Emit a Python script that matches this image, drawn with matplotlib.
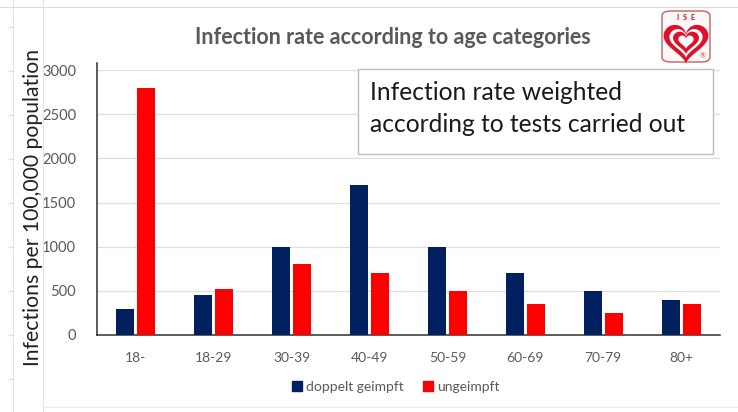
import numpy as np
import matplotlib
matplotlib.use("Agg")
import matplotlib.pyplot as plt
from matplotlib.patches import Rectangle, FancyBboxPatch, Polygon
from matplotlib.lines import Line2D

plt.rcParams['font.family'] = ['Lato', 'DejaVu Sans']

categories = ["18-", "18-29", "30-39", "40-49", "50-59", "60-69", "70-79", "80+"]
doppelt_geimpft = [290, 450, 1000, 1700, 1000, 700, 500, 400]
ungeimpft = [2800, 520, 800, 700, 500, 350, 250, 350]
series_names = ["doppelt geimpft", "ungeimpft"]
yticks = [0, 500, 1000, 1500, 2000, 2500, 3000]

NAVY = "#002060"
RED = "#FF0000"
GREY = "#595959"

W, H = 738, 412
fig = plt.figure(figsize=(W / 100, H / 100), dpi=100)
fig.patch.set_facecolor("white")

def fx(px):
    return px / W

def fy(py):
    return 1 - py / H

# spreadsheet cell lines behind the chart
for x in (13, 43):
    fig.add_artist(Line2D([fx(x), fx(x)], [0, 1], color="#e3e3e3", lw=0.8))
fig.add_artist(Line2D([0, 1], [fy(7), fy(7)], color="#dcdcdc", lw=0.8))
fig.add_artist(Line2D([fx(43), 1], [fy(407), fy(407)], color="#ececec", lw=0.8))
for y in range(27, 412, 44):
    fig.add_artist(Line2D([fx(9), fx(13)], [fy(y), fy(y)], color="#dcdcdc", lw=0.8))

ax = fig.add_axes([fx(97), fy(335), fx(720) - fx(97), fy(70) - fy(335)])
x = np.arange(len(categories))
bw = 0.23
ax.bar(x - 0.135, doppelt_geimpft, bw, color=NAVY, label=series_names[0], zorder=3)
ax.bar(x + 0.135, ungeimpft, bw, color=RED, label=series_names[1], zorder=3)

ax.set_xlim(-0.5, len(categories) - 0.5)
ax.set_ylim(0, 3000)
ax.set_yticks(yticks)
ax.set_yticklabels([str(v) for v in yticks], fontsize=10.5, color=GREY)
ax.set_xticks(x)
ax.set_xticklabels(categories, fontsize=10, color=GREY)
ax.tick_params(axis="x", length=0, pad=12)
ax.tick_params(axis="y", length=0, pad=15)
ax.grid(axis="y", color="#dedede", lw=0.9, zorder=0)
for s in ("top", "right"):
    ax.spines[s].set_visible(False)
ax.spines["left"].set_color("#303030")
ax.spines["bottom"].set_color("#303030")
ax.spines["left"].set_linewidth(1.1)
ax.spines["bottom"].set_linewidth(1.1)
ax.spines["left"].set_bounds(0, 3080)
ax.set_facecolor("none")

fig.text(fx(33), fy(207), "Infections per 100,000 population", rotation=90,
         ha="center", va="center", fontsize=15.2, color="#222222")

fig.text(fx(393), fy(38), "Infection rate according to age categories",
         ha="center", va="center", fontsize=15.5, fontweight="bold", color=GREY)

# annotation box
fig.add_artist(Rectangle((fx(358), fy(154)), fx(713) - fx(358), fy(69) - fy(154),
                         facecolor="white", edgecolor="#bfbfbf", lw=1.0, zorder=5))
fig.text(fx(370), fy(92), "Infection rate weighted", ha="left", va="center",
         fontsize=17.7, color="#1a1a1a", zorder=6)
fig.text(fx(370), fy(125), "according to tests carried out", ha="left", va="center",
         fontsize=17.7, color="#1a1a1a", zorder=6)

# legend
handles = [Rectangle((0, 0), 1, 1, color=NAVY), Rectangle((0, 0), 1, 1, color=RED)]
fig.legend(handles, series_names, loc="center", bbox_to_anchor=(fx(396), fy(387)),
           ncol=2, frameon=False, fontsize=10, labelcolor=GREY,
           handlelength=0.7, handleheight=0.7, handletextpad=0.3, columnspacing=1.4)

# ISE logo
lx0, lx1, ly0, ly1 = 662, 710, 11, 62
fig.add_artist(FancyBboxPatch((fx(lx0), fy(ly1)), fx(lx1) - fx(lx0), fy(ly0) - fy(ly1),
                              boxstyle="round,pad=0,rounding_size=0.012",
                              facecolor="#fff8f8", edgecolor="#c46060", lw=1.0))
fig.text(fx(686), fy(18), "I  S  E", ha="center", va="center", fontsize=5.5,
         fontweight="bold", color="#d01020")
t = np.linspace(0, 2 * np.pi, 200)
hx = 16 * np.sin(t) ** 3
hy = 13 * np.cos(t) - 5 * np.cos(2 * t) - 2 * np.cos(3 * t) - np.cos(4 * t)
for scale, col in ((1.0, "#e0102a"), (0.74, "white"), (0.58, "#e0102a"), (0.34, "white")):
    px = 686 + hx * 1.4 * scale
    py = 41 - hy * 1.35 * scale
    fig.add_artist(Polygon(np.column_stack([fx(px), fy(py)]), closed=True,
                           facecolor=col, edgecolor="none"))
fig.text(fx(703), fy(56), "®", ha="center", va="center", fontsize=5, color="#c04040")

fig.savefig("out.png", dpi=100)
